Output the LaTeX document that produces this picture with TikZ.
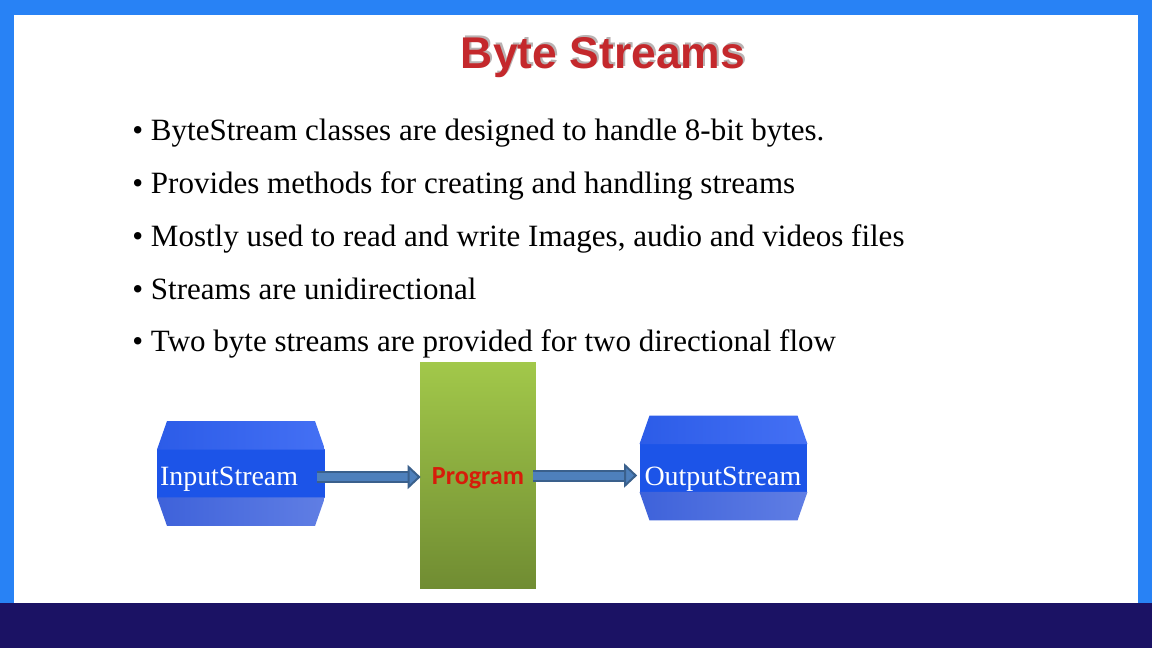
\documentclass[tikz,border=0pt]{standalone}
\usepackage{fontspec}
\setmainfont{Liberation Serif}
\newfontfamily\titlefont{Liberation Sans}
\newfontfamily\labelfont{Carlito}
\usetikzlibrary{arrows.meta}

\definecolor{framecol}{RGB}{40,130,245}
\definecolor{footcol}{RGB}{27,18,100}
\definecolor{titlecol}{RGB}{196,40,44}
\definecolor{shadowcol}{RGB}{185,178,178}
\definecolor{bandcol}{RGB}{28,84,232}
\definecolor{topleft}{RGB}{44,92,232}
\definecolor{topright}{RGB}{68,112,244}
\definecolor{botleft}{RGB}{62,98,218}
\definecolor{botright}{RGB}{96,126,228}
\definecolor{arrowcol}{RGB}{58,96,140}
\definecolor{arrowfill}{RGB}{78,128,188}
\definecolor{progtop}{RGB}{162,200,74}
\definecolor{progbot}{RGB}{112,140,50}
\definecolor{progtext}{RGB}{214,28,10}

\tikzset{
    bullet/.style={anchor=base west, inner sep=0pt, font=\fontsize{17.65}{21}\selectfont},
    titletext/.style={inner sep=0pt, font=\titlefont\bfseries\fontsize{25.3}{30}\selectfont},
    streambox/.style={minimum width=3.36cm, minimum height=2.1cm, inner sep=0pt,
        text=white, align=left, text depth=0pt, font=\fontsize{15.9}{19}\selectfont,
        path picture={
            \fill[bandcol] ([yshift=0.5cm]path picture bounding box.west) rectangle ([yshift=-0.5cm]path picture bounding box.east);
            \shade[left color=topleft, right color=topright] ([xshift=0.2cm]path picture bounding box.north west) -- ([xshift=-0.2cm]path picture bounding box.north east)
                -- ([yshift=0.48cm]path picture bounding box.east) -- ([yshift=0.48cm]path picture bounding box.west) -- cycle;
            \shade[left color=botleft, right color=botright] ([xshift=0.2cm]path picture bounding box.south west) -- ([xshift=-0.2cm]path picture bounding box.south east)
                -- ([yshift=-0.48cm]path picture bounding box.east) -- ([yshift=-0.48cm]path picture bounding box.west) -- cycle;
        }},
    programbox/.style={minimum width=2.32cm, minimum height=4.54cm, inner sep=0pt,
        top color=progtop, bottom color=progbot, text=progtext, text height=0.36cm, text depth=0pt,
        font=\labelfont\bfseries\fontsize{14.85}{18}\selectfont},
    blockline/.style={draw=arrowcol, line width=0.04cm, double=arrowfill, double distance=0.16cm,
        -{Triangle[length=0.26cm, width=0.48cm, fill=arrowfill, color=arrowcol, line width=0.04cm]}}
}

\begin{document}
\begin{tikzpicture}[x=0.02cm, y=-0.02cm]
    \useasboundingbox (0,0) rectangle (1152,648);

    % Frame
    \fill[framecol] (0,0) rectangle (1152,648);
    \fill[white] (14,15) rectangle (1138,603);
    \fill[footcol] (0,603) rectangle (1152,648);

    % Title
    \node[titletext, text=shadowcol] (titleshadow) at (605,56) {Byte Streams};
    \node[titletext, text=titlecol] (title) at (603,58) {Byte Streams};

    % Bullets
    \node[bullet] (lineone) at (132,141) {• ByteStream classes are designed to handle 8-bit bytes.};
    \node[bullet] (linetwo) at (132,194) {• Provides methods for creating and handling streams};
    \node[bullet] (linethree) at (132,247) {• Mostly used to read and write Images, audio and videos files};
    \node[bullet] (linefour) at (132,299.5) {• Streams are unidirectional};
    \node[bullet] (linefive) at (132,352) {• Two byte streams are provided for two directional flow};

    % Boxes
    \node[streambox, text width=3.24cm, text height=0.46cm] (input) at (241,473.5) {InputStream};
    \node[streambox, text width=3.16cm, text height=0.72cm] (output) at (723.5,468) {OutputStream};
    \node[programbox] (program) at (478,475.5) {Program};

    % Arrows
    \draw[blockline, shorten <=-0.16cm, shorten >=-0.02cm] ([yshift=-0.03cm]input.east |- program.center) -- ([yshift=-0.03cm]program.west);
    \draw[blockline, shorten <=-0.06cm, shorten >=0.04cm] (program.east) -- (output.west |- program.center);
\end{tikzpicture}
\end{document}
